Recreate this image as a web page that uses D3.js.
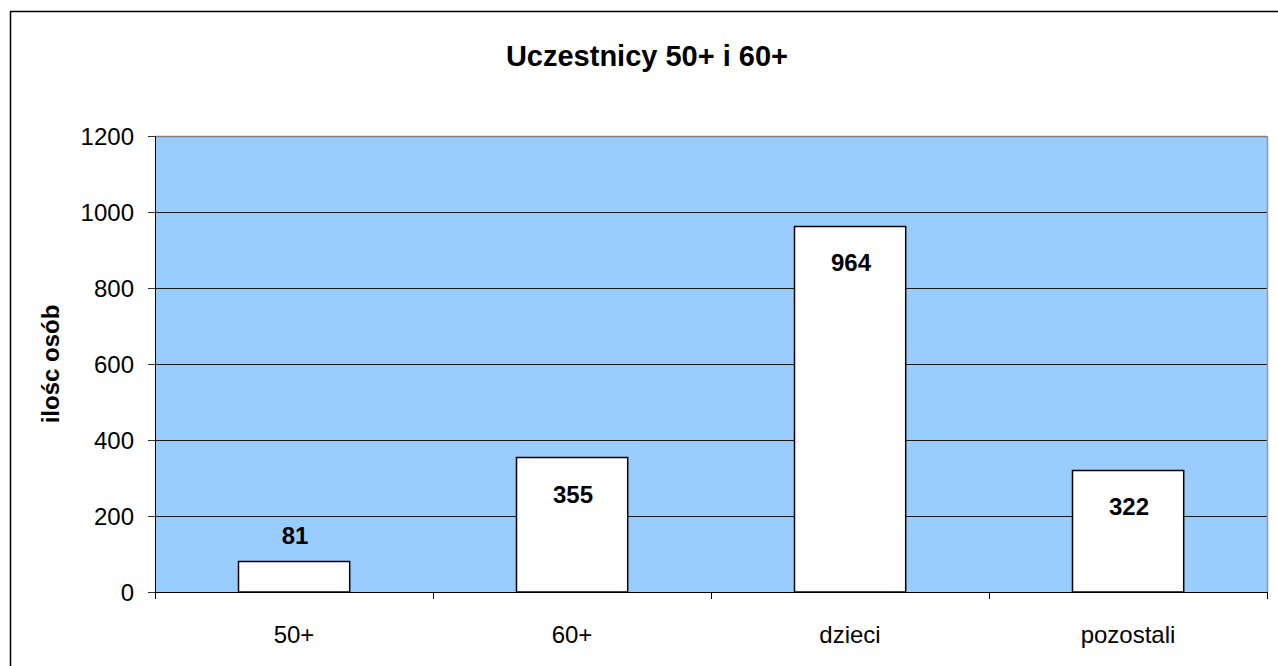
<!DOCTYPE html>
<html>
<head>
<meta charset="utf-8">
<script src="https://cdn.jsdelivr.net/npm/d3@7"></script>
<style>
  html, body { margin: 0; padding: 0; background: #fff; }
  svg { display: block; }
</style>
</head>
<body>
<div id="chart"></div>
<script>
const categories = ['50+', '60+', 'dzieci', 'pozostali'];
const values = [81, 355, 964, 322];
const yTicks = [0, 200, 400, 600, 800, 1000, 1200];
const titleText = 'Uczestnicy 50+ i 60+';
const yTitle = 'ilośc osób';

const W = 1278, H = 666;
const mL = 155, mR = 11, mT = 136, mB = 74;
const FONT = 'Arial, "Liberation Sans", sans-serif';

const svg = d3.select('#chart').append('svg').attr('width', W).attr('height', H);

// outer frame (only left + top visible in the crop)
svg.append('line').attr('x1', 10.5).attr('x2', 10.5).attr('y1', 11).attr('y2', H).attr('stroke', '#000').attr('stroke-width', 1.5);
svg.append('line').attr('x1', 10).attr('x2', W).attr('y1', 11.5).attr('y2', 11.5).attr('stroke', '#000').attr('stroke-width', 1.5);

const x = d3.scaleBand().domain(categories).range([mL, W - mR]).paddingInner(0.6).paddingOuter(0.3);
const xb = d3.scaleBand().domain(categories).range([mL, W - mR]);
const y = d3.scaleLinear().domain([0, 1200]).range([H - mB, mT]);

svg.append('rect').attr('x', mL).attr('y', mT).attr('width', W - mR - mL).attr('height', H - mB - mT)
  .attr('fill', '#99ccff');

yTicks.forEach(t => {
  const yy = Math.round(y(t)) + 0.5;
  if (t > 0 && t < 1200) {
    svg.append('line').attr('x1', mL).attr('x2', W - mR).attr('y1', yy).attr('y2', yy)
      .attr('stroke', '#1a1a1a').attr('stroke-width', 1);
  }
  svg.append('line').attr('x1', mL - 7).attr('x2', mL).attr('y1', yy).attr('y2', yy)
    .attr('stroke', '#333').attr('stroke-width', 1);
  svg.append('text').attr('x', mL - 21).attr('y', y(t) + 8.5).attr('text-anchor', 'end')
    .attr('font-family', FONT).attr('font-size', 24).attr('fill', '#000').text(t);
});

// plot border: grey top/right, black left/bottom axes
svg.append('line').attr('x1', mL).attr('x2', W - mR).attr('y1', mT + 0.5).attr('y2', mT + 0.5)
  .attr('stroke', '#808080').attr('stroke-width', 1.5);
svg.append('line').attr('x1', W - mR + 0.5).attr('x2', W - mR + 0.5).attr('y1', mT).attr('y2', H - mB)
  .attr('stroke', '#999').attr('stroke-width', 1.5);

// bars
svg.selectAll('rect.bar').data(values).enter().append('rect').attr('class', 'bar')
  .attr('x', (d, i) => Math.round(x(categories[i])) + 0.5)
  .attr('y', d => Math.round(y(d)) + 0.5)
  .attr('width', x.bandwidth())
  .attr('height', d => y(0) - Math.round(y(d)) - 0.5)
  .attr('fill', '#fff').attr('stroke', '#000').attr('stroke-width', 1.5);

// axes lines
svg.append('line').attr('x1', mL + 0.5).attr('x2', mL + 0.5).attr('y1', mT).attr('y2', H - mB)
  .attr('stroke', '#000').attr('stroke-width', 1);
svg.append('line').attr('x1', mL).attr('x2', W - mR).attr('y1', H - mB + 0.5).attr('y2', H - mB + 0.5)
  .attr('stroke', '#000').attr('stroke-width', 1);

// x ticks at category boundaries
categories.concat([null]).forEach(c => {
  const xx = Math.round(c ? xb(c) : W - mR) + 0.5;
  svg.append('line').attr('x1', xx).attr('x2', xx).attr('y1', H - mB).attr('y2', H - mB + 7)
    .attr('stroke', '#000').attr('stroke-width', 1);
});

categories.forEach(c => {
  svg.append('text').attr('x', xb(c) + xb.bandwidth() / 2).attr('y', H - mB + 51).attr('text-anchor', 'middle')
    .attr('font-family', FONT).attr('font-size', 24).attr('fill', '#000').text(c);
});

// value labels: inside near top for tall bars, above for short ones
values.forEach((v, i) => {
  const top = y(v);
  const inside = (y(0) - top) > 60;
  const ly = inside ? top + 37 + 8.5 : top - 26 + 8.5;
  svg.append('text').attr('x', x(categories[i]) + x.bandwidth() / 2 + 1).attr('y', ly).attr('text-anchor', 'middle')
    .attr('font-family', FONT).attr('font-size', 24).attr('font-weight', 700).attr('fill', '#000').text(v);
});

svg.append('text').attr('x', 647).attr('y', 66).attr('text-anchor', 'middle')
  .attr('font-family', FONT).attr('font-size', 29).attr('font-weight', 700).attr('fill', '#000').text(titleText);

svg.append('text').attr('transform', `translate(59, ${(mT + H - mB) / 2}) rotate(-90)`).attr('text-anchor', 'middle')
  .attr('font-family', FONT).attr('font-size', 24).attr('font-weight', 700).attr('fill', '#000').text(yTitle);
</script>
</body>
</html>
